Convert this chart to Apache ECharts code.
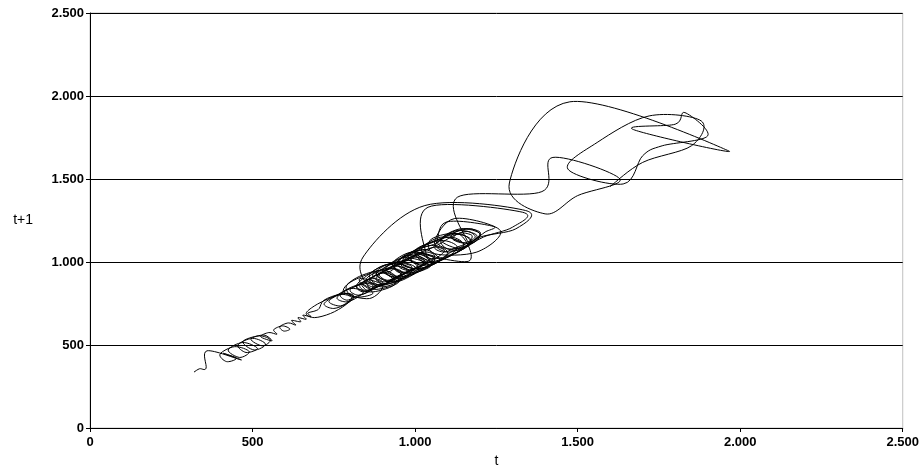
<!DOCTYPE html>
<html>
<head>
<meta charset="utf-8">
<title>t / t+1</title>
<script src="https://cdn.jsdelivr.net/npm/echarts@6/dist/echarts.min.js"></script>
<style>
  html, body { margin: 0; padding: 0; background: #fff; }
  #chart { width: 922px; height: 473px; }
</style>
</head>
<body>
<div id="chart"></div>
<script>
// Observed series, in time order. Each plotted point is (value at t, value at t+1).
const seriesStart = [320, 337, 357, 360, 465, 410, 450, 420, 400, 445, 490, 460, 425, 470, 515, 480, 455, 500, 540, 505, 470, 520, 555, 530, 495, 535, 560, 525, 550];
const seriesClimb = [575, 565, 592, 615, 596, 584, 610, 633, 620, 648, 640, 665, 655, 680, 670, 692, 705];
const seriesLow = [720, 770, 805, 785, 740, 690, 665, 690, 735, 780, 812, 790, 750, 720, 745, 785, 810, 800, 770, 735, 760, 800, 840, 825, 790, 760, 780, 820, 855, 880, 850, 815, 790, 770, 800, 845, 870, 860, 825, 800, 830, 870, 900, 880, 845];
const seriesRise = [830, 860, 900, 935, 910, 870, 840, 820, 850, 890, 930, 960, 940, 905, 880, 900, 940, 975, 950, 910, 870, 850, 880, 920, 960, 990, 970, 930, 900, 860, 885, 925, 945, 980, 1010, 985, 950, 915, 890, 925, 965, 1000, 1030, 1005, 965, 930, 910, 945, 990, 1030, 1060, 1040, 995, 955, 935, 970, 1010, 1045, 1020, 980, 950, 975, 1020, 1060, 1090, 1070, 1030, 990, 1000, 1040, 1000, 960, 920, 880, 850];
const seriesMid = [830, 900, 860, 780, 820, 905, 950, 880, 835, 870, 810, 790, 860, 930, 960, 900, 850, 895, 940, 870, 820, 850, 915, 985, 940, 880, 860, 840, 1030, 1340, 1310, 1200, 1150, 1080, 1010, 940, 880, 920, 980, 1010, 950, 890, 860, 925, 990, 960, 900, 945, 1010, 1050, 980, 920, 880, 940, 1000, 970, 930, 990, 1060, 1020, 955, 910, 960, 1025, 1000, 945, 900, 870, 930, 975, 1040, 990, 935, 965, 1030, 1075, 1010, 960];
const seriesHigh = [990, 1060, 1035, 1040, 1330, 1300, 1210, 1150, 1080, 1010, 960, 990, 1050, 1100, 1060, 990, 950, 1010, 1080, 1130, 1090, 1020, 980, 1040, 1110, 1150, 1100, 1030, 1000, 1070, 1135, 1170, 1120, 1050, 1020, 1080, 1150, 1110, 1060, 1000, 1060, 1095, 1240, 1215, 1180, 1130, 1070, 1110, 1170, 1140, 1080, 1130, 1190, 1160, 1100, 1060, 1122, 1262, 1190, 1060, 1050, 1138, 1165, 1005, 1062, 1110, 1170, 1200, 1160, 1100, 1080, 1140, 1200, 1170, 1110, 1150, 1200, 1180, 1130, 1090, 1060, 1085, 1120, 1160, 1185, 1150, 1115, 1140, 1175, 1160];
const seriesPeak = [1130, 1390, 1424, 1630, 1500, 1400, 1290, 1476, 1965, 1669, 1800, 1830, 1900, 1760, 1700, 1640, 1470, 1560, 1720, 1880, 1850, 1700, 1600, 1455];

const axisTicks = [0, 500, 1000, 1500, 2000, 2500];
const xAxisName = 't';
const yAxisName = 't+1';

const values = [].concat(seriesStart, seriesClimb, seriesLow, seriesRise, seriesMid, seriesHigh, seriesPeak);
const lagPairs = values.slice(0, -1).map((v, i) => [v, values[i + 1]]);

// 1000 -> "1.000"
function fmt(v) {
  return String(Math.round(v)).replace(/\B(?=(\d{3})+(?!\d))/g, '.');
}

const tickStep = axisTicks[1] - axisTicks[0];
const family = 'Liberation Sans, Arial, sans-serif';
const labelFont = { color: '#000', fontFamily: family, fontSize: 13, fontWeight: 'bold' };
const nameFont = { color: '#000', fontFamily: family, fontSize: 14 };

// Smoothed connecting line: one cubic Bezier per segment, Catmull-Rom style tangents
// computed from the neighbouring points after projecting them through the axes.
function renderSegment(params, api) {
  const i = params.dataIndex;
  const n = lagPairs.length;
  if (i >= n - 1) return null;
  const P = k => api.coord(lagPairs[Math.max(0, Math.min(n - 1, k))]);
  const p0 = P(i - 1), p1 = P(i), p2 = P(i + 1), p3 = P(i + 2);
  const k = 1 / 6;
  return {
    type: 'bezierCurve',
    shape: {
      x1: p1[0], y1: p1[1], x2: p2[0], y2: p2[1],
      cpx1: p1[0] + (p2[0] - p0[0]) * k, cpy1: p1[1] + (p2[1] - p0[1]) * k,
      cpx2: p2[0] - (p3[0] - p1[0]) * k, cpy2: p2[1] - (p3[1] - p1[1]) * k
    },
    style: { stroke: '#000', fill: null, lineWidth: 1 }
  };
}

const chart = echarts.init(document.getElementById('chart'), null, { renderer: 'canvas' });
chart.setOption({
  animation: false,
  backgroundColor: '#fff',
  grid: { left: 90, right: 14, top: 13, bottom: 45, show: true, borderColor: '#c0c0c0', borderWidth: 1, backgroundColor: '#fff' },
  xAxis: {
    type: 'value',
    min: axisTicks[0], max: axisTicks[axisTicks.length - 1], interval: tickStep,
    name: xAxisName, nameLocation: 'middle', nameGap: 24, nameTextStyle: nameFont,
    axisLine: { lineStyle: { color: '#000', width: 1 } },
    axisTick: { show: true, length: 4, lineStyle: { color: '#000' } },
    axisLabel: Object.assign({ margin: 8, formatter: fmt }, labelFont),
    splitLine: { show: false }
  },
  yAxis: {
    type: 'value',
    min: axisTicks[0], max: axisTicks[axisTicks.length - 1], interval: tickStep,
    name: yAxisName, nameLocation: 'middle', nameRotate: 0, nameGap: 57, nameTextStyle: nameFont,
    axisLine: { show: true, lineStyle: { color: '#000', width: 1 } },
    axisTick: { show: true, length: 4, lineStyle: { color: '#000' } },
    axisLabel: Object.assign({ margin: 6, formatter: fmt }, labelFont),
    splitLine: { show: true, lineStyle: { color: '#000', width: 1 } }
  },
  series: [{
    type: 'custom',
    data: lagPairs,
    encode: { x: 0, y: 1 },
    renderItem: renderSegment,
    silent: true
  }]
});
</script>
</body>
</html>
